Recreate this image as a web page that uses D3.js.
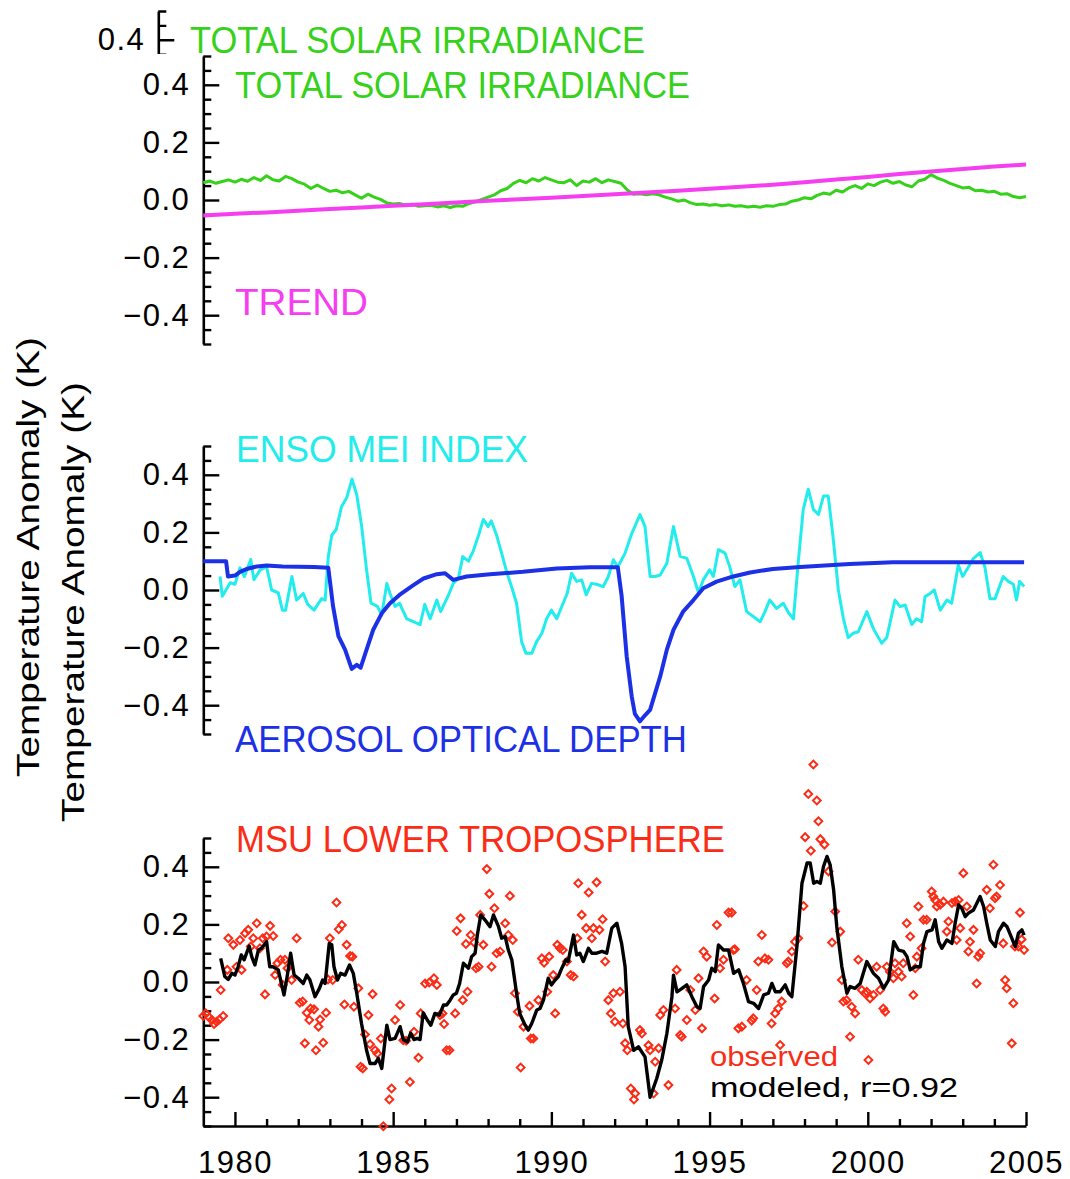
<!DOCTYPE html>
<html>
<head>
<meta charset="utf-8">
<script src="https://cdn.jsdelivr.net/npm/d3@7"></script>
<style>
  body { margin: 0; background: #fff; }
  svg { display: block; }
  text { font-family: "Liberation Sans", Arial, sans-serif; }
</style>
</head>
<body>
<svg id="chart" width="1070" height="1179"></svg>
<script>
// ---------------- data: [decimal year, anomaly in K] ----------------
const solarIrradiance = [
  [1979.0,0.060],[1979.2,0.066],[1979.4,0.058],[1979.6,0.064],[1979.8,0.070],[1980.0,0.062],[1980.2,0.072],
  [1980.4,0.065],[1980.6,0.078],[1980.8,0.068],[1981.0,0.084],[1981.2,0.070],[1981.4,0.066],[1981.6,0.082],
  [1981.8,0.074],[1982.0,0.062],[1982.2,0.055],[1982.4,0.040],[1982.6,0.052],[1982.8,0.040],[1983.0,0.030],
  [1983.2,0.034],[1983.4,0.025],[1983.6,0.030],[1983.8,0.018],[1984.0,0.006],[1984.2,0.020],[1984.4,0.010],
  [1984.6,0.002],[1984.8,-0.010],[1985.0,-0.014],[1985.2,-0.012],[1985.4,-0.018],[1985.6,-0.015],[1985.8,-0.022],
  [1986.0,-0.020],[1986.2,-0.018],[1986.4,-0.024],[1986.6,-0.020],[1986.8,-0.026],[1987.0,-0.020],[1987.2,-0.022],
  [1987.4,-0.012],[1987.6,-0.006],[1987.8,0.002],[1988.0,0.010],[1988.2,0.018],[1988.4,0.032],[1988.6,0.040],
  [1988.8,0.058],[1989.0,0.068],[1989.2,0.060],[1989.4,0.074],[1989.6,0.066],[1989.8,0.078],[1990.0,0.070],
  [1990.2,0.062],[1990.4,0.060],[1990.6,0.070],[1990.8,0.050],[1991.0,0.066],[1991.2,0.062],[1991.4,0.074],
  [1991.6,0.060],[1991.8,0.070],[1992.0,0.064],[1992.2,0.058],[1992.4,0.035],[1992.6,0.020],[1992.8,0.022],
  [1993.0,0.018],[1993.2,0.022],[1993.4,0.018],[1993.6,0.010],[1993.8,0.004],[1994.0,-0.004],[1994.2,0.000],
  [1994.4,-0.010],[1994.6,-0.016],[1994.8,-0.014],[1995.0,-0.018],[1995.2,-0.016],[1995.4,-0.020],[1995.6,-0.017],
  [1995.8,-0.022],[1996.0,-0.020],[1996.2,-0.024],[1996.4,-0.022],[1996.6,-0.025],[1996.8,-0.020],[1997.0,-0.022],
  [1997.2,-0.016],[1997.4,-0.014],[1997.6,-0.004],[1997.8,0.000],[1998.0,0.008],[1998.2,0.004],[1998.4,0.016],
  [1998.6,0.024],[1998.8,0.020],[1999.0,0.034],[1999.2,0.028],[1999.4,0.042],[1999.6,0.050],[1999.8,0.040],
  [2000.0,0.056],[2000.2,0.050],[2000.4,0.062],[2000.6,0.068],[2000.8,0.058],[2001.0,0.064],[2001.2,0.052],
  [2001.4,0.046],[2001.6,0.066],[2001.8,0.072],[2002.0,0.088],[2002.2,0.076],[2002.4,0.068],[2002.6,0.058],
  [2002.8,0.050],[2003.0,0.042],[2003.2,0.044],[2003.4,0.032],[2003.6,0.034],[2003.8,0.028],[2004.0,0.030],
  [2004.2,0.020],[2004.4,0.022],[2004.6,0.012],[2004.8,0.008],[2005.0,0.012]
];

const trend = [
  [1979,-0.054],[1980,-0.048],[1981,-0.043],[1982,-0.037],[1983,-0.031],[1984,-0.026],[1985,-0.020],
  [1986,-0.015],[1987,-0.009],[1988,-0.003],[1989,0.003],[1990,0.008],[1991,0.014],[1992,0.020],
  [1993,0.026],[1994,0.032],[1995,0.039],[1996,0.046],[1997,0.053],[1998,0.062],[1999,0.071],
  [2000,0.080],[2001,0.090],[2002,0.099],[2003,0.108],[2004,0.116],[2005,0.123]
];

const ensoMei = [
  [1979.53,0.047],[1979.6,-0.022],[1979.85,0.025],[1980.0,0.02],[1980.16,0.077],[1980.3,0.047],[1980.5,0.106],
  [1980.6,0.036],[1980.8,0.07],[1981.0,0.08],[1981.16,0.0],[1981.37,-0.01],[1981.5,-0.07],[1981.6,-0.07],
  [1981.8,0.047],[1981.95,-0.035],[1982.16,-0.012],[1982.3,-0.05],[1982.5,-0.07],[1982.74,-0.03],[1982.85,-0.035],
  [1982.95,0.116],[1983.06,0.19],[1983.2,0.21],[1983.37,0.29],[1983.53,0.32],[1983.7,0.385],[1983.85,0.33],
  [1984.0,0.225],[1984.16,0.07],[1984.3,-0.045],[1984.5,-0.057],[1984.64,-0.087],[1984.8,0.023],[1984.9,-0.012],
  [1985.06,-0.057],[1985.2,-0.046],[1985.43,-0.1],[1985.64,-0.11],[1985.85,-0.12],[1986.0,-0.05],[1986.17,-0.1],
  [1986.38,-0.035],[1986.5,-0.075],[1986.74,-0.02],[1986.9,0.023],[1987.06,0.04],[1987.2,0.116],[1987.38,0.1],
  [1987.53,0.135],[1987.7,0.19],[1987.85,0.245],[1988.0,0.22],[1988.1,0.24],[1988.27,0.19],[1988.43,0.127],
  [1988.6,0.058],[1988.74,0.012],[1988.9,-0.046],[1989.06,-0.18],[1989.2,-0.22],[1989.38,-0.22],[1989.53,-0.18],
  [1989.7,-0.15],[1989.85,-0.1],[1990.0,-0.07],[1990.17,-0.1],[1990.32,-0.06],[1990.5,-0.012],[1990.64,0.058],
  [1990.8,0.03],[1990.96,0.035],[1991.1,-0.017],[1991.27,0.023],[1991.43,0.02],[1991.64,0.012],[1991.8,0.047],
  [1991.96,0.105],[1992.1,0.08],[1992.33,0.128],[1992.54,0.196],[1992.8,0.262],[1992.96,0.22],[1993.12,0.047],
  [1993.28,0.047],[1993.44,0.052],[1993.65,0.093],[1993.86,0.22],[1994.07,0.117],[1994.28,0.11],[1994.49,0.047],
  [1994.65,-0.01],[1994.8,0.035],[1995.0,0.07],[1995.12,0.047],[1995.28,0.14],[1995.49,0.128],[1995.65,0.076],
  [1995.8,0.012],[1995.96,0.035],[1996.17,-0.075],[1996.38,-0.092],[1996.6,-0.11],[1996.75,-0.075],[1996.9,-0.035],
  [1997.12,-0.064],[1997.33,-0.046],[1997.5,-0.08],[1997.65,-0.1],[1997.8,0.093],[1997.96,0.28],[1998.12,0.35],
  [1998.28,0.28],[1998.44,0.262],[1998.6,0.326],[1998.75,0.326],[1998.9,0.186],[1999.07,0.0],[1999.23,-0.1],
  [1999.38,-0.165],[1999.54,-0.15],[1999.7,-0.145],[1999.97,-0.075],[2000.18,-0.135],[2000.44,-0.185],[2000.6,-0.165],
  [2000.86,-0.035],[2001.02,-0.058],[2001.18,-0.052],[2001.39,-0.12],[2001.54,-0.1],[2001.7,-0.11],[2001.81,-0.023],
  [2001.97,-0.012],[2002.1,0.0],[2002.29,-0.07],[2002.5,-0.035],[2002.65,-0.046],[2002.86,0.087],[2003.0,0.047],
  [2003.18,0.08],[2003.34,0.11],[2003.55,0.13],[2003.7,0.08],[2003.86,-0.03],[2004.02,-0.03],[2004.28,0.047],
  [2004.44,0.03],[2004.6,0.02],[2004.7,-0.035],[2004.8,0.03],[2004.94,0.012]
];

const aerosolOpticalDepth = [
  [1979.0,0.1],[1979.72,0.1],[1979.78,0.047],[1980.0,0.05],[1980.16,0.063],[1980.4,0.074],[1980.7,0.082],
  [1981.0,0.085],[1981.5,0.082],[1982.0,0.081],[1982.5,0.080],[1982.95,0.077],[1983.1,-0.056],[1983.27,-0.16],
  [1983.48,-0.207],[1983.69,-0.274],[1983.85,-0.26],[1983.97,-0.27],[1984.16,-0.207],[1984.37,-0.138],
  [1984.64,-0.081],[1984.9,-0.046],[1985.2,-0.017],[1985.64,0.017],[1985.96,0.04],[1986.38,0.055],[1986.64,0.058],
  [1986.9,0.035],[1987.32,0.047],[1988.06,0.055],[1989.1,0.063],[1990.17,0.075],[1991.22,0.079],[1992.1,0.079],
  [1992.22,-0.02],[1992.38,-0.23],[1992.54,-0.37],[1992.64,-0.43],[1992.8,-0.456],[1992.96,-0.435],[1993.12,-0.416],
  [1993.28,-0.358],[1993.44,-0.3],[1993.65,-0.207],[1993.86,-0.138],[1994.17,-0.074],[1994.49,-0.035],[1994.8,0.006],
  [1995.22,0.029],[1995.75,0.047],[1996.28,0.061],[1997.0,0.073],[1997.86,0.08],[1999.43,0.09],[2000.8,0.096],
  [2004.94,0.096]
];

const msuObserved = [
  [1979.00,-0.118],[1979.08,-0.109],[1979.19,-0.123],[1979.27,-0.132],[1979.34,-0.146],[1979.42,-0.138],
  [1979.51,-0.130],[1979.55,-0.028],[1979.63,-0.118],[1979.76,0.042],[1979.79,0.152],[1979.95,0.129],
  [1980.05,0.053],[1980.16,0.146],[1980.21,0.042],[1980.32,0.169],[1980.42,0.181],[1980.50,0.123],
  [1980.58,0.152],[1980.69,0.204],[1980.79,0.117],[1980.88,0.152],[1980.95,-0.043],[1981.00,0.158],
  [1981.11,0.195],[1981.21,0.160],[1981.27,0.024],[1981.34,0.065],[1981.44,0.077],[1981.51,-0.010],
  [1981.58,0.077],[1981.66,0.048],[1981.79,0.007],[1981.95,0.152],[1982.05,-0.072],[1982.14,-0.068],
  [1982.21,-0.213],[1982.27,-0.107],[1982.35,-0.132],[1982.39,-0.092],[1982.50,-0.095],[1982.56,-0.237],
  [1982.64,-0.155],[1982.69,-0.130],[1982.79,-0.211],[1982.88,-0.107],[1982.94,0.009],[1983.00,0.152],
  [1983.09,0.007],[1983.21,0.276],[1983.28,0.183],[1983.38,0.198],[1983.46,-0.078],[1983.53,0.129],
  [1983.64,0.090],[1983.71,0.088],[1983.76,-0.086],[1983.90,-0.022],[1983.97,-0.294],[1984.04,-0.300],
  [1984.11,-0.182],[1984.22,-0.115],[1984.27,-0.216],[1984.35,-0.042],[1984.43,-0.237],[1984.50,-0.248],
  [1984.61,-0.196],[1984.69,-0.501],[1984.88,-0.408],[1984.95,-0.370],[1985.06,-0.132],[1985.22,-0.080],
  [1985.32,-0.202],[1985.41,-0.204],[1985.53,-0.347],[1985.66,-0.173],[1985.80,-0.263],[1985.87,-0.109],
  [1986.01,-0.005],[1986.14,-0.002],[1986.29,0.013],[1986.38,-0.010],[1986.48,-0.115],[1986.56,-0.109],
  [1986.61,-0.146],[1986.69,-0.237],[1986.78,-0.237],[1986.96,-0.109],[1987.01,0.177],[1987.13,0.221],
  [1987.20,-0.063],[1987.30,0.132],[1987.35,-0.034],[1987.45,0.163],[1987.56,0.137],[1987.62,0.048],
  [1987.70,0.053],[1987.75,0.233],[1987.85,0.129],[1987.96,0.392],[1988.04,0.306],[1988.11,0.053],
  [1988.20,0.256],[1988.27,0.100],[1988.38,0.106],[1988.54,0.204],[1988.64,0.163],[1988.69,0.299],
  [1988.78,0.146],[1988.85,-0.039],[1988.94,-0.103],[1989.03,-0.297],[1989.12,-0.155],[1989.31,-0.083],
  [1989.35,-0.196],[1989.43,-0.196],[1989.59,-0.063],[1989.70,0.082],[1989.77,0.067],[1989.87,-0.034],
  [1989.93,0.088],[1990.06,0.024],[1990.12,-0.109],[1990.19,0.129],[1990.27,0.117],[1990.36,0.111],
  [1990.49,0.071],[1990.61,0.024],[1990.70,0.019],[1990.82,0.152],[1990.85,0.343],[1990.96,0.233],
  [1991.10,0.187],[1991.18,0.311],[1991.28,0.152],[1991.33,0.187],[1991.43,0.346],[1991.52,0.181],
  [1991.62,0.218],[1991.70,0.071],[1991.80,-0.063],[1991.88,-0.109],[1991.96,-0.039],[1992.01,-0.138],
  [1992.17,-0.034],[1992.26,-0.144],[1992.33,-0.213],[1992.40,-0.237],[1992.51,-0.370],[1992.61,-0.408],
  [1992.65,-0.387],[1992.80,-0.167],[1992.86,-0.179],[1993.07,-0.220],[1993.12,-0.237],[1993.23,-0.387],
  [1993.28,-0.277],[1993.39,-0.230],[1993.44,-0.115],[1993.54,-0.097],[1993.70,-0.358],[1993.91,-0.092],
  [1993.96,0.042],[1994.07,-0.184],[1994.12,-0.190],[1994.28,-0.132],[1994.39,-0.028],[1994.55,-0.097],
  [1994.65,0.013],[1994.76,-0.161],[1994.81,0.106],[1994.91,0.088],[1995.16,-0.057],[1995.23,0.198],
  [1995.33,0.048],[1995.44,0.077],[1995.60,0.241],[1995.70,0.241],[1995.75,0.111],[1995.80,0.114],
  [1995.91,-0.161],[1996.02,-0.155],[1996.17,0.007],[1996.33,-0.134],[1996.38,-0.126],[1996.49,-0.028],
  [1996.54,0.071],[1996.65,0.163],[1996.75,0.082],[1996.86,0.077],[1996.96,-0.144],[1997.07,-0.109],
  [1997.17,-0.092],[1997.23,-0.219],[1997.28,-0.068],[1997.44,0.065],[1997.49,0.071],[1997.60,0.106],
  [1997.70,0.140],[1997.80,0.152],[1997.97,0.264],[1998.02,0.503],[1998.12,0.653],[1998.20,0.456],
  [1998.28,0.755],[1998.39,0.630],[1998.44,0.558],[1998.50,0.496],[1998.63,0.477],[1998.76,0.384],
  [1998.87,0.137],[1998.97,0.245],[1999.13,0.175],[1999.18,0.007],[1999.23,-0.068],[1999.33,-0.063],
  [1999.44,-0.190],[1999.49,-0.086],[1999.60,-0.109],[1999.70,0.077],[1999.81,-0.028],[1999.91,-0.039],
  [1999.97,-0.034],[2000.02,-0.271],[2000.07,-0.057],[2000.18,-0.045],[2000.28,0.053],[2000.39,-0.028],
  [2000.49,-0.092],[2000.55,-0.103],[2000.60,0.053],[2000.70,0.036],[2000.81,0.013],[2000.86,0.065],
  [2000.97,0.036],[2001.07,0.019],[2001.12,0.065],[2001.23,0.204],[2001.34,0.158],[2001.44,-0.045],
  [2001.50,0.048],[2001.55,0.088],[2001.60,0.262],[2001.70,0.117],[2001.76,0.216],[2001.86,0.216],
  [2002.02,0.314],[2002.07,0.297],[2002.13,0.285],[2002.18,0.262],[2002.29,0.268],[2002.39,0.279],
  [2002.50,0.175],[2002.55,0.210],[2002.66,0.274],[2002.76,0.279],[2002.81,0.146],[2002.87,0.285],
  [2002.92,0.187],[2003.02,0.378],[2003.13,0.262],[2003.18,0.106],[2003.23,0.140],[2003.34,0.181],
  [2003.44,-0.005],[2003.49,0.088],[2003.55,0.100],[2003.76,0.320],[2003.86,0.256],[2003.97,0.407],
  [2004.02,0.291],[2004.07,0.297],[2004.18,0.337],[2004.28,0.134],[2004.34,0.007],[2004.39,-0.022],
  [2004.55,-0.213],[2004.60,-0.074],[2004.65,0.123],[2004.76,0.123],[2004.81,0.241],[2004.86,0.148],
  [2004.94,0.111]
];

const msuModeled = [
  [1979.55,0.082],[1979.68,0.019],[1979.79,0.009],[1979.9,0.03],[1980.0,0.024],[1980.1,0.053],[1980.2,0.094],
  [1980.29,0.077],[1980.45,0.125],[1980.53,0.088],[1980.63,0.059],[1980.74,0.111],[1980.84,0.117],[1981.0,0.14],
  [1981.1,0.053],[1981.2,0.053],[1981.37,0.042],[1981.55,-0.045],[1981.65,0.019],[1981.76,0.1],[1981.87,0.024],
  [1982.0,0.013],[1982.16,-0.005],[1982.27,0.024],[1982.37,0.007],[1982.53,-0.051],[1982.67,-0.022],[1982.77,0.007],
  [1982.85,-0.005],[1982.98,0.134],[1983.06,0.129],[1983.13,0.053],[1983.24,0.007],[1983.34,0.03],[1983.48,0.024],
  [1983.62,0.059],[1983.74,0.03],[1983.85,-0.039],[1984.0,-0.144],[1984.16,-0.237],[1984.27,-0.283],[1984.43,-0.283],
  [1984.53,-0.265],[1984.64,-0.3],[1984.8,-0.15],[1984.9,-0.2],[1985.06,-0.196],[1985.22,-0.155],[1985.32,-0.2],
  [1985.45,-0.208],[1985.55,-0.178],[1985.66,-0.2],[1985.76,-0.196],[1985.85,-0.2],[1985.95,-0.107],[1986.08,-0.132],
  [1986.19,-0.15],[1986.32,-0.109],[1986.46,-0.115],[1986.59,-0.08],[1986.69,-0.08],[1986.8,-0.063],[1986.9,-0.045],
  [1987.0,-0.039],[1987.1,-0.005],[1987.22,0.065],[1987.38,0.048],[1987.48,0.088],[1987.59,0.1],[1987.66,0.163],
  [1987.77,0.233],[1987.9,0.216],[1988.06,0.192],[1988.17,0.233],[1988.33,0.192],[1988.43,0.152],[1988.54,0.158],
  [1988.64,0.111],[1988.75,0.077],[1988.9,-0.039],[1989.0,-0.109],[1989.17,-0.15],[1989.27,-0.167],[1989.38,-0.144],
  [1989.54,-0.097],[1989.64,-0.092],[1989.75,-0.063],[1989.9,0.013],[1990.0,-0.01],[1990.12,0.007],[1990.22,0.019],
  [1990.33,0.048],[1990.46,0.077],[1990.53,0.071],[1990.7,0.163],[1990.8,0.094],[1990.9,0.1],[1991.01,0.071],
  [1991.17,0.117],[1991.28,0.1],[1991.43,0.1],[1991.6,0.106],[1991.75,0.1],[1991.91,0.187],[1992.07,0.204],
  [1992.22,0.134],[1992.33,0.053],[1992.43,-0.155],[1992.6,-0.237],[1992.75,-0.225],[1992.96,-0.26],[1993.12,-0.4],
  [1993.33,-0.335],[1993.49,-0.27],[1993.65,-0.179],[1993.81,-0.051],[1993.86,0.024],[1993.97,-0.034],[1994.13,-0.022],
  [1994.28,-0.01],[1994.44,-0.051],[1994.6,-0.086],[1994.7,-0.092],[1994.81,-0.016],[1994.97,0.007],[1995.07,0.048],
  [1995.18,0.036],[1995.28,0.129],[1995.44,0.111],[1995.6,0.111],[1995.76,0.03],[1995.92,0.042],[1996.07,-0.005],
  [1996.23,-0.068],[1996.39,-0.074],[1996.55,-0.092],[1996.71,-0.045],[1996.86,-0.039],[1996.97,-0.005],[1997.08,-0.034],
  [1997.23,-0.034],[1997.39,-0.01],[1997.5,-0.039],[1997.6,-0.051],[1997.76,0.123],[1997.92,0.343],[1998.08,0.413],
  [1998.18,0.413],[1998.29,0.343],[1998.39,0.349],[1998.5,0.343],[1998.6,0.401],[1998.71,0.436],[1998.81,0.407],
  [1998.92,0.32],[1999.02,0.192],[1999.18,0.053],[1999.34,-0.039],[1999.44,-0.016],[1999.6,-0.022],[1999.76,-0.005],
  [1999.97,0.071],[2000.18,0.03],[2000.34,0.013],[2000.5,-0.022],[2000.66,0.007],[2000.82,0.14],[2000.97,0.111],
  [2001.13,0.106],[2001.24,0.088],[2001.34,0.042],[2001.5,0.053],[2001.66,0.053],[2001.76,0.134],[2001.87,0.175],
  [2002.03,0.181],[2002.13,0.216],[2002.24,0.14],[2002.34,0.117],[2002.5,0.146],[2002.66,0.134],[2002.76,0.204],
  [2002.87,0.268],[2002.97,0.256],[2003.08,0.227],[2003.18,0.239],[2003.34,0.25],[2003.45,0.274],[2003.55,0.297],
  [2003.66,0.262],[2003.76,0.204],[2003.87,0.146],[2004.03,0.123],[2004.13,0.175],[2004.29,0.204],[2004.4,0.192],
  [2004.55,0.152],[2004.66,0.123],[2004.76,0.169],[2004.87,0.181],[2004.94,0.163]
];

// axis ticks
const yMajorTicks = [-0.4, -0.2, 0.0, 0.2, 0.4];
const yMinorTicks = [-0.5,-0.45,-0.35,-0.3,-0.25,-0.15,-0.1,-0.05,0.05,0.1,0.15,0.25,0.3,0.35,0.45,0.5];
const xMajorTicks = [1980, 1985, 1990, 1995, 2000, 2005];
const xMinorTicks = [1981,1982,1983,1984,1986,1987,1988,1989,1991,1992,1993,1994,1996,1997,1998,1999,2001,2002,2003,2004];

// labels
const yTitle = "Temperature Anomaly (K)";
const correlationText = "modeled,  r=0.92";

// ---------------- layout & styles ----------------
const colors = {
  solar: "#36d11a", trend: "#f43ef0", enso: "#22ecec",
  aerosol: "#1c30e6", msu: "#fb2c16", model: "#000000"
};
const W = 1070, H = 1179;
const panelBox = [ {top: 56, bottom: 344}, {top: 446, bottom: 734}, {top: 838, bottom: 1126} ];
const axisX = 203.3;
const sheet = {x: 50, y: 54};          // white sheet of the front figure
const backOffset = {dx: -45, dy: -45}; // displaced copy peeking out above and left of it

const svg = d3.select("#chart");
const x = d3.scaleLinear().domain([1979, 2005]).range([axisX, 1026]);
const fmt = d3.format(".1f");
const ys = panelBox.map(p => d3.scaleLinear().domain([-0.5, 0.5]).range([p.bottom, p.top]));

function yAxes(g, y, majors) {
  const major = g.append("g").attr("transform", `translate(${axisX},0)`)
    .call(d3.axisLeft(y).tickValues(majors).tickSizeInner(-16).tickSizeOuter(0)
      .tickPadding(13).tickFormat(fmt));
  major.select(".domain").attr("stroke", "#000").attr("stroke-width", 2.6);
  major.selectAll(".tick line").attr("stroke", "#000").attr("stroke-width", 2.4);
  major.selectAll(".tick text").attr("fill", "#000").attr("font-size", 31)
    .attr("letter-spacing", 1.5).attr("font-family", "Liberation Sans, Arial, sans-serif");
  const minor = g.append("g").attr("transform", `translate(${axisX},0)`)
    .call(d3.axisLeft(y).tickValues(yMinorTicks).tickSizeInner(-8).tickSizeOuter(0).tickFormat(""));
  minor.select(".domain").remove();
  minor.selectAll(".tick line").attr("stroke", "#000").attr("stroke-width", 2.4);
}

function label(g, txt, color, px, py, len, size) {
  g.append("text").attr("x", px).attr("y", py).attr("fill", color)
    .attr("font-size", size).attr("textLength", len).attr("lengthAdjust", "spacingAndGlyphs")
    .text(txt);
}

function lineOf(y) {
  return d3.line().x(d => x(d[0])).y(d => y(d[1]));
}

function drawYTitle(g) {
  g.append("text")
    .attr("transform", "translate(84,602) rotate(-90)")
    .attr("text-anchor", "middle").attr("font-size", 32)
    .attr("textLength", 440).attr("lengthAdjust", "spacingAndGlyphs")
    .attr("fill", "#000").text(yTitle);
}

function drawSolarPanel(g, majors, withLines) {
  yAxes(g, ys[0], majors);
  if (withLines) {
    g.append("path").datum(solarIrradiance).attr("d", lineOf(ys[0]))
      .attr("fill", "none").attr("stroke", colors.solar).attr("stroke-width", 3).attr("stroke-linejoin", "round");
    g.append("path").datum(trend).attr("d", lineOf(ys[0]))
      .attr("fill", "none").attr("stroke", colors.trend).attr("stroke-width", 4).attr("stroke-linejoin", "round");
    label(g, "TREND", colors.trend, 235, 315, 133, 37);
  }
  label(g, "TOTAL SOLAR IRRADIANCE", colors.solar, 235, 98, 455, 37);
}

function drawForcingPanel(g) {
  yAxes(g, ys[1], yMajorTicks);
  g.append("path").datum(ensoMei).attr("d", lineOf(ys[1]))
    .attr("fill", "none").attr("stroke", colors.enso).attr("stroke-width", 3).attr("stroke-linejoin", "round");
  g.append("path").datum(aerosolOpticalDepth).attr("d", lineOf(ys[1]))
    .attr("fill", "none").attr("stroke", colors.aerosol).attr("stroke-width", 4).attr("stroke-linejoin", "round");
  label(g, "ENSO MEI INDEX", colors.enso, 236, 462, 292, 37);
  label(g, "AEROSOL OPTICAL DEPTH", colors.aerosol, 235, 752, 452, 37);
}

function drawMsuPanel(g) {
  yAxes(g, ys[2], yMajorTicks);
  const xa = g.append("g").attr("transform", `translate(0,${panelBox[2].bottom})`)
    .call(d3.axisBottom(x).tickValues(xMajorTicks).tickSizeInner(-14).tickSizeOuter(0)
      .tickPadding(25).tickFormat(d3.format("d")));
  xa.select(".domain").attr("stroke", "#000").attr("stroke-width", 2.6);
  xa.selectAll(".tick line").attr("stroke", "#000").attr("stroke-width", 2.4);
  xa.selectAll(".tick text").attr("fill", "#000").attr("font-size", 31).attr("letter-spacing", 1.5)
    .attr("font-family", "Liberation Sans, Arial, sans-serif");
  const xm = g.append("g").attr("transform", `translate(0,${panelBox[2].bottom})`)
    .call(d3.axisBottom(x).tickValues(xMinorTicks).tickSizeInner(-7).tickSizeOuter(0).tickFormat(""));
  xm.select(".domain").remove();
  xm.selectAll(".tick line").attr("stroke", "#000").attr("stroke-width", 2.4);

  const diamond = d3.symbol(d3.symbolSquare, 30)();
  g.append("g").selectAll("path").data(msuObserved).join("path")
    .attr("d", diamond)
    .attr("transform", d => `translate(${x(d[0])},${ys[2](d[1])}) rotate(45)`)
    .attr("fill", "none").attr("stroke", colors.msu).attr("stroke-width", 2);
  g.append("path").datum(msuModeled).attr("d", lineOf(ys[2]))
    .attr("fill", "none").attr("stroke", colors.model).attr("stroke-width", 3.4).attr("stroke-linejoin", "round");
  label(g, "MSU LOWER TROPOSPHERE", colors.msu, 236, 852, 489, 37);
  label(g, "observed", colors.msu, 710, 1066, 128, 27);
  label(g, correlationText, colors.model, 710, 1097, 248, 27);
}

// displaced back copy: only its top strip and left strip are visible
const defs = svg.append("defs");
const clip = defs.append("clipPath").attr("id", "back-strips");
clip.append("rect").attr("x", 0).attr("y", 0).attr("width", W).attr("height", sheet.y);
clip.append("rect").attr("x", 0).attr("y", 0).attr("width", sheet.x).attr("height", H);
const back = svg.append("g").attr("clip-path", "url(#back-strips)")
  .append("g").attr("transform", `translate(${backOffset.dx},${backOffset.dy})`);
drawYTitle(back);
drawSolarPanel(back, yMajorTicks.filter(v => v > 0.3), false);

// front figure on its white sheet
svg.append("rect").attr("x", sheet.x).attr("y", sheet.y).attr("width", W).attr("height", H).attr("fill", "#fff");
const front = svg.append("g");
drawYTitle(front);
drawSolarPanel(front, yMajorTicks, true);
drawForcingPanel(front);
drawMsuPanel(front);
</script>
</body>
</html>
